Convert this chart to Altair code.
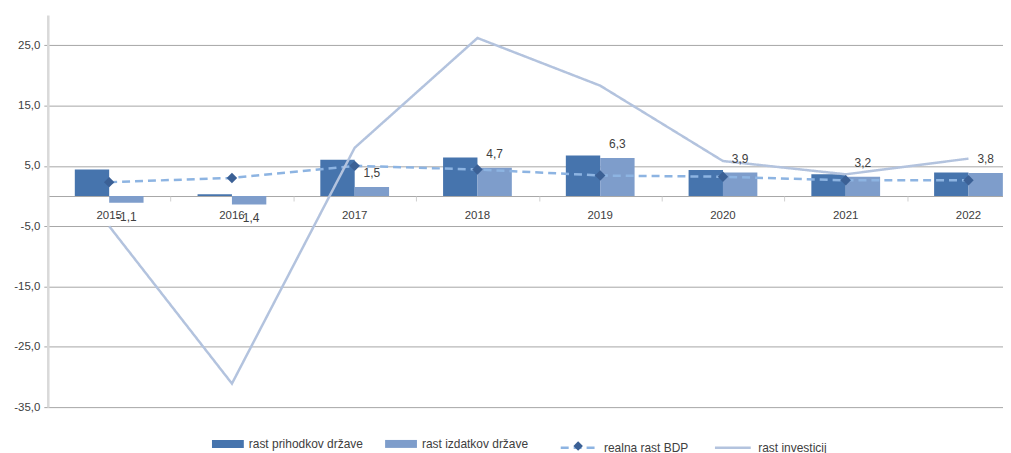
import altair as alt
import pandas as pd

years = ["2015", "2016", "2017", "2018", "2019", "2020", "2021", "2022"]
prihodki = [4.4, 0.3, 6.0, 6.4, 6.7, 4.3, 3.6, 3.9]
izdatki = [-1.1, -1.4, 1.5, 4.7, 6.3, 3.9, 3.2, 3.8]
bdp = [2.3, 3.0, 5.0, 4.4, 3.4, 3.2, 2.6, 2.6]
investicije = [-5.0, -31.1, 8.0, 26.2, 18.3, 5.8, 3.6, 6.2]
y_ticks = [-35, -25, -15, -5, 5, 15, 25]

S_PRI = "rast prihodkov države"
S_IZD = "rast izdatkov države"
S_BDP = "realna rast BDP"
S_INV = "rast investicij"

FONT = "Liberation Sans, Arial, sans-serif"
TXT = "#404040"
DIAMOND = "#3B6095"

bars_df = pd.DataFrame({
    "year": years * 2,
    "series": [S_PRI] * len(years) + [S_IZD] * len(years),
    "value": prihodki + izdatki,
})
lines_df = pd.DataFrame({
    "year": years * 2,
    "series": [S_BDP] * len(years) + [S_INV] * len(years),
    "value": bdp + investicije,
})
bdp_df = pd.DataFrame({"year": years, "series": [S_BDP] * len(years), "value": bdp})
labels_df = pd.DataFrame({"year": years, "series": [S_IZD] * len(years), "value": izdatki})
ticks_df = pd.DataFrame({"year": years})

W, H = 960, 394
Y_MIN, Y_MAX = -35, 30
X_RANGE = [0, 987]
zero_off = -(H - H * Y_MAX / (Y_MAX - Y_MIN))
LEG_Y = 415

fmt_expr = "replace(replace(format(datum.value, '.1f'), '.', ','), '−', '-')"

x_enc = alt.X(
    "year:N",
    scale=alt.Scale(domain=years, range=X_RANGE, paddingInner=0.44, paddingOuter=0.22),
    axis=alt.Axis(
        title=None, orient="bottom", offset=zero_off, ticks=False,
        domainColor="#A6A6A6", domainWidth=1, labelPadding=14, labelAngle=0,
        labelFontSize=11.5, labelColor=TXT, labelFont=FONT, grid=False,
    ),
)
y_enc = alt.Y(
    "value:Q",
    scale=alt.Scale(domain=[Y_MIN, Y_MAX], nice=False, zero=False),
    axis=alt.Axis(
        title=None, values=y_ticks, labelExpr=fmt_expr, grid=True, gridColor="#A6A6A6",
        gridWidth=1, domainColor="#D9D9D9", domainWidth=2.5, tickColor="#A6A6A6",
        tickSize=4, labelPadding=4, labelFontSize=11.5, labelColor=TXT, labelFont=FONT,
    ),
)
xoff = alt.XOffset("series:N", scale=alt.Scale(domain=[S_PRI, S_IZD], paddingInner=0, paddingOuter=0))

bars = alt.Chart(bars_df).mark_bar().encode(
    x=x_enc,
    y=y_enc,
    xOffset=xoff,
    fill=alt.Fill(
        "series:N",
        scale=alt.Scale(domain=[S_PRI, S_IZD], range=["#4674AD", "#7E9DCB"]),
        legend=alt.Legend(
            title=None, orient="none", legendX=165, legendY=LEG_Y, direction="horizontal",
            symbolType="M-1,-0.25L1,-0.25L1,0.25L-1,0.25Z", symbolSize=1024,
            symbolStrokeWidth=0, labelFontSize=12, labelOffset=5, columnPadding=22,
            labelFont=FONT, labelColor=TXT,
        ),
    ),
)

line_legend = alt.Legend(
    title=None, orient="none", legendX=514, legendY=LEG_Y, direction="horizontal",
    symbolType="stroke", symbolSize=1296, symbolStrokeWidth=2.5, labelFontSize=12,
    labelOffset=6, columnPadding=21, labelFont=FONT, labelColor=TXT,
)
lines = alt.Chart(lines_df).mark_line(strokeWidth=2.5).encode(
    x=alt.X("year:N"),
    y=alt.Y("value:Q"),
    stroke=alt.Stroke(
        "series:N",
        scale=alt.Scale(domain=[S_BDP, S_INV], range=["#8DB4E2", "#B3C3DE"]),
        legend=line_legend,
    ),
    strokeDash=alt.StrokeDash(
        "series:N",
        scale=alt.Scale(domain=[S_BDP, S_INV], range=[[8, 5], [1, 0]]),
        legend=line_legend,
    ),
)

points = alt.Chart(bdp_df).mark_point(filled=True, size=110, color=DIAMOND, opacity=1).encode(
    x=alt.X("year:N"),
    y=alt.Y("value:Q"),
    shape=alt.Shape(
        "series:N",
        scale=alt.Scale(domain=[S_BDP], range=["diamond"]),
        legend=alt.Legend(
            title=None, orient="none", legendX=527, legendY=LEG_Y + 12, direction="horizontal",
            symbolSize=90, symbolFillColor=DIAMOND, symbolStrokeWidth=0,
            labelFontSize=12, labelExpr="''", labelFont=FONT,
        ),
    ),
)

label_base = alt.Chart(labels_df).transform_calculate(label=fmt_expr)
labels_pos = label_base.transform_filter("datum.value >= 0").mark_text(
    fontSize=12, color=TXT, font=FONT, dy=-14
).encode(x=alt.X("year:N"), y=alt.Y("value:Q"), xOffset=alt.XOffset("series:N"), text="label:N")
labels_neg = label_base.transform_filter("datum.value < 0").mark_text(
    fontSize=12, color=TXT, font=FONT, dy=14
).encode(x=alt.X("year:N"), y=alt.Y("value:Q"), xOffset=alt.XOffset("series:N"), text="label:N")

main = alt.layer(bars, lines, points, labels_pos, labels_neg)

# category separator ticks on the zero line
sep = alt.Chart(ticks_df).mark_point(opacity=0).encode(
    x=alt.X(
        "year:N",
        scale=alt.Scale(domain=years, range=X_RANGE, paddingInner=0, paddingOuter=0),
        axis=alt.Axis(
            title=None, orient="bottom", offset=zero_off, labels=False, domain=False,
            tickBand="extent", tickSize=5, tickColor="#D0D0D0", grid=False,
        ),
    ),
)

chart = alt.layer(main, sep).resolve_scale(x="independent").properties(
    width=W,
    height=H,
    autosize=alt.AutoSizeParams(type="none"),
    padding={"left": 40, "top": 6, "right": 0, "bottom": 45},
).configure_view(stroke=None)

chart.save("out.html", embed_options={"renderer": "svg", "actions": False})
